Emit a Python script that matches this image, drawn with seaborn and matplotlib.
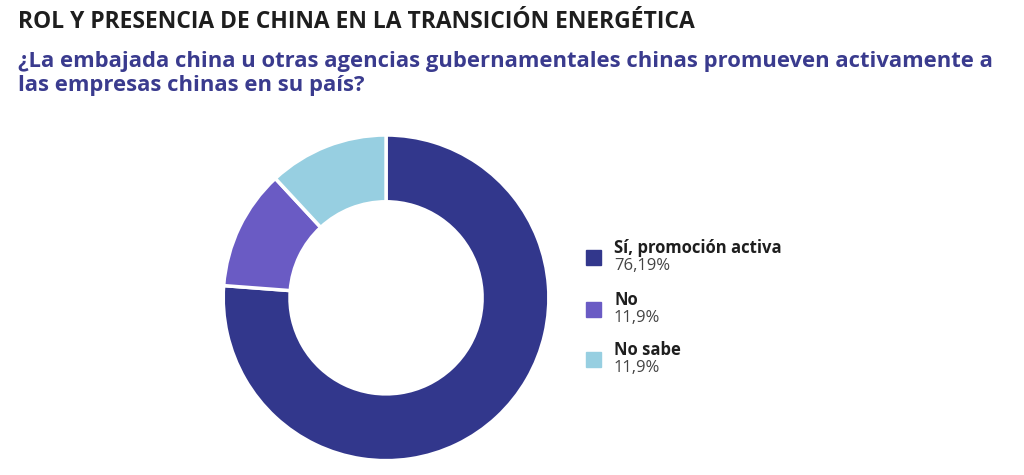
import matplotlib.pyplot as plt
import seaborn as sns

labels = ["Sí, promoción activa", "No", "No sabe"]
values = [76.19, 11.9, 11.9]
value_text = ["76,19%", "11,9%", "11,9%"]
colors = ["#32378c", "#6a5bc4", "#97cfe1"]

sns.set_theme(style="white")
plt.rcParams['font.family'] = ['Open Sans', 'DejaVu Sans']

fig = plt.figure(figsize=(10.24, 4.75), dpi=100)
ax = fig.add_axes([0.377 - 0.159, 0.373 - 0.343, 0.318, 0.686])
ax.pie(values, colors=colors, startangle=90, counterclock=False,
       wedgeprops=dict(width=0.41, edgecolor="white", linewidth=2.5))
ax.set_aspect("equal")
ax.set_xlim(-1.0, 1.0)
ax.set_ylim(-1.0, 1.0)

fig.text(0.018, 0.953, "ROL Y PRESENCIA DE CHINA EN LA TRANSICIÓN ENERGÉTICA",
         fontsize=16.5, fontweight="bold", color="#1e1e1e", va="center")
fig.text(0.018, 0.845, "¿La embajada china u otras agencias gubernamentales chinas promueven activamente a\nlas empresas chinas en su país?",
         fontsize=15.8, fontweight="bold", color="#3a3b8e", va="center", linespacing=1.15)

ys = [248, 300, 350]
for lab, vt, c, y in zip(labels, value_text, colors, ys):
    fy = 1 - y / 475
    fig.patches.append(plt.Rectangle((586 / 1024, fy - 0.035), 15 / 1024, 15 / 475,
                                     transform=fig.transFigure, color=c))
    fig.text(614 / 1024, fy, lab, fontsize=12, fontweight="bold", color="#1e1e1e", va="center")
    fig.text(614 / 1024, fy - 0.037, vt, fontsize=12, color="#444444", va="center")

fig.savefig("out.png", dpi=100)
